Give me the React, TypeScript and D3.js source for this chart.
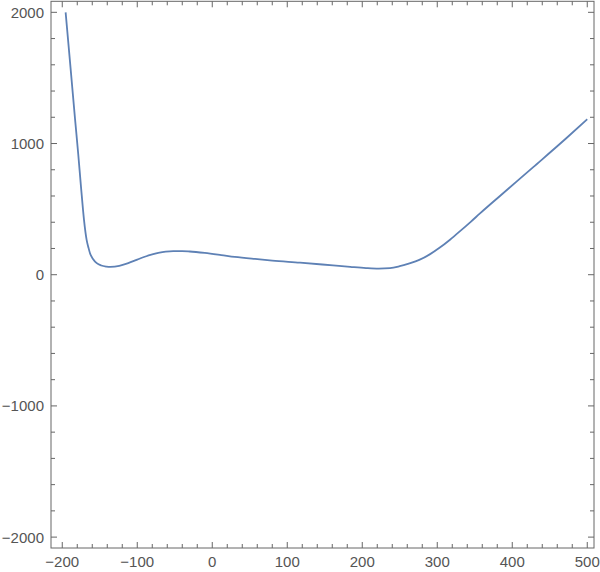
import React from 'react';
import * as d3 from 'd3';

// curve samples
const xValues = [
  -195.5, -189, -183, -178.7, -175, -171, -167.5, -165, -163, -159, -154, -148, -141, -136,
  -124, -112, -100, -90, -80, -72, -62, -52, -40, -30, -10, 12, 30, 57, 80, 117, 161, 184,
  205, 222, 237, 250, 262, 276, 290, 303, 317, 330, 345, 357, 384, 428, 472, 500,
];
const yValues = [
  2000, 1580, 1190, 920, 670, 418, 265, 205, 164, 120, 88, 70, 62, 60,
  67, 88, 115, 137, 155, 166, 176, 180, 180, 177, 166, 150, 136, 120, 108, 92, 71, 60,
  51, 47, 50, 65, 85, 113, 155, 205, 267, 330, 405, 467, 602, 820, 1040, 1185,
];

const xMajor = [-200, -100, 0, 100, 200, 300, 400, 500];
const yMajor = [-2000, -1000, 0, 1000, 2000];

const width = 600;
const height = 572;

const fmt = (v: number) => (v < 0 ? '\u2212' + Math.abs(v) : String(v));

const App: React.FC = () => {
  const xScale = d3.scaleLinear().domain([-215, 509]).range([51, 594]);
  const yScale = d3.scaleLinear().domain([-2083, 2084]).range([548, 1.3]);

  const [x0, x1] = xScale.range();
  const [yb, yt] = yScale.range();

  const points: [number, number][] = xValues.map((x, i) => [x, yValues[i]]);
  const line = d3
    .line<[number, number]>()
    .x(d => xScale(d[0]))
    .y(d => yScale(d[1]))
    .curve(d3.curveMonotoneX);

  const xMinor = d3.range(-200, 501, 20).filter(v => v % 100 !== 0);
  const yMinor = d3.range(-2000, 2001, 200).filter(v => v % 1000 !== 0);

  const frame = '#666';
  const major = 6;
  const minor = 4;

  return (
    <svg
      width={width}
      height={height}
      style={{ position: 'absolute', left: 0, top: 0, background: '#fff' }}
      fontFamily="'Liberation Sans', Arial, sans-serif"
    >
      {/* frame */}
      <rect x={x0} y={yt} width={x1 - x0} height={yb - yt} fill="none" stroke={frame} strokeWidth={1} />

      {/* x ticks, bottom and top */}
      {xMajor.map(v => (
        <g key={'xM' + v}>
          <line x1={xScale(v)} x2={xScale(v)} y1={yb} y2={yb - major} stroke={frame} />
          <line x1={xScale(v)} x2={xScale(v)} y1={yt} y2={yt + major} stroke={frame} />
          <text x={xScale(v)} y={567} textAnchor="middle" fontSize={15} fill="#555">
            {fmt(v)}
          </text>
        </g>
      ))}
      {xMinor.map(v => (
        <g key={'xm' + v}>
          <line x1={xScale(v)} x2={xScale(v)} y1={yb} y2={yb - minor} stroke={frame} />
          <line x1={xScale(v)} x2={xScale(v)} y1={yt} y2={yt + minor} stroke={frame} />
        </g>
      ))}

      {/* y ticks, left and right */}
      {yMajor.map(v => (
        <g key={'yM' + v}>
          <line x1={x0} x2={x0 + major} y1={yScale(v)} y2={yScale(v)} stroke={frame} />
          <line x1={x1} x2={x1 - major} y1={yScale(v)} y2={yScale(v)} stroke={frame} />
          <text x={x0 - 7} y={yScale(v)} dy="0.36em" textAnchor="end" fontSize={15} fill="#555">
            {fmt(v)}
          </text>
        </g>
      ))}
      {yMinor.map(v => (
        <g key={'ym' + v}>
          <line x1={x0} x2={x0 + minor} y1={yScale(v)} y2={yScale(v)} stroke={frame} />
          <line x1={x1} x2={x1 - minor} y1={yScale(v)} y2={yScale(v)} stroke={frame} />
        </g>
      ))}

      {/* curve */}
      <path d={line(points) ?? ''} fill="none" stroke="#5E81B5" strokeWidth={1.8} />
    </svg>
  );
};

export default App;
